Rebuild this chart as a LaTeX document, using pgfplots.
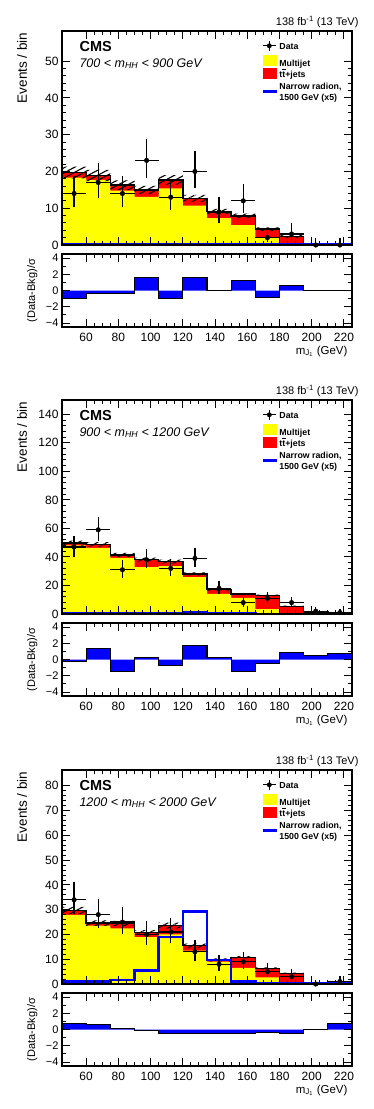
\documentclass[border=0pt]{standalone}
\usepackage{fontspec}
\setmainfont{Liberation Sans}
\usepackage{pgfplots}
\pgfplotsset{compat=1.18}
\usepackage{pgfplotstable}
\usetikzlibrary{patterns.meta}

\definecolor{mjyellow}{RGB}{255,255,0}
\definecolor{ttred}{RGB}{255,0,0}
\definecolor{sigblue}{RGB}{0,0,255}

\newcommand{\tbar}{\ooalign{t\cr\hidewidth\rule[7.3pt]{3.4pt}{0.7pt}\hidewidth\cr}}

% bin low edge, multijet, ttbar, bkg unc, signal (x5), pull
\pgfplotstableread{
lo  mj    tt    unc  sig   pull
45  18.3  1.4   1.6  0.1   -1.0
60  17.7  1.2   1.5  0.1   -0.35
75  14.8  1.5   1.3  0.1   -0.4
90  13.1  1.9   1.1  0.1   1.65
105 15.4  2.3   1.3  0.1   -0.95
120 10.7  2.0   0.9  0.1   1.65
135 7.3   1.8   0.7  0.1   0.05
150 5.4   2.5   0.6  0.1   1.2
165 2.1   2.2   0.5  0.1   -0.9
180 0.2   2.1   0.4  0.1   0.6
195 0.1   0.1   0.1  0.1   0.0
210 0.05  0.05  0.05 0.1   0.0
225 0.05  0.05  0.05 0.1   0.0
}\histA
\pgfplotstableread{
x     y   em   ep
52.5  14  3.7  4.8
67.5  17  4.1  5.2
82.5  14  3.7  4.8
97.5  23  4.8  5.9
112.5 13  3.6  4.7
127.5 20  4.4  5.6
142.5 9   2.9  4.1
157.5 12  3.4  4.6
172.5 2   1.3  2.6
187.5 3   1.6  2.9
202.5 0   0    1.8
217.5 0   0    1.8
}\dataA

\pgfplotstableread{
lo  mj    tt    unc  sig   pull
45  48.1  1.6   1.8  0.3   -0.3
60  46.4  2.4   1.6  0.4   1.35
75  39.4  2.1   1.4  0.5   -1.45
90  32.8  5.4   1.3  0.7   0.3
105 33.5  3.3   1.3  0.8   -0.7
120 25.8  2.3   1.0  0.9   1.7
135 14.1  3.0   0.7  0.6   0.25
150 11.3  2.8   0.6  0.3   -1.45
165 3.5   9.4   0.6  0.1   -0.45
180 0.7   4.7   0.4  0.05  0.9
195 0.5   1.0   0.2  0.05  0.45
210 0.3   0.7   0.1  0.05  0.75
225 0.3   0.7   0.1  0.05  0.75
}\histB
\pgfplotstableread{
x     y   em   ep
52.5  47  6.8  7.9
67.5  59  7.7  8.8
82.5  31  5.5  6.7
97.5  38  6.1  7.3
112.5 32  5.6  6.8
127.5 39  6.2  7.4
142.5 18  4.2  5.4
157.5 8   2.8  3.9
172.5 11  3.3  4.4
187.5 8   2.8  3.9
202.5 2   1.3  2.6
217.5 1   0.8  2.3
}\dataB

\pgfplotstableread{
lo  mj    tt    unc  sig   pull
45  27.9  1.8   1.4  1.1   0.75
60  23.6  1.0   1.1  1.1   0.6
75  22.5  2.0   1.0  1.6   0.15
90  18.9  2.0   0.9  5.4   -0.12
105 20.0  3.6   1.2  18.9  -0.45
120 13.5  2.0   0.8  29.3  -0.45
135 9.0   0.7   0.6  9.7   -0.52
150 6.5   4.3   0.5  1.1   -0.45
165 2.7   3.6   0.4  0.3   -0.32
180 0.4   3.9   0.3  0.1   -0.5
195 0.2   0.3   0.1  0.1   0.0
210 0.3   0.4   0.1  0.1   0.75
225 0.3   0.4   0.1  0.1   0.75
}\histC
\pgfplotstableread{
x     y   em   ep
52.5  34  5.8  7.0
67.5  28  5.3  6.4
82.5  25  5.0  6.1
97.5  20  4.4  5.6
112.5 21  4.6  5.7
127.5 13  3.6  4.7
142.5 8   2.8  3.9
157.5 9   2.9  4.1
172.5 5   2.2  3.4
187.5 3   1.6  2.9
202.5 0   0    1.8
217.5 1   0.8  2.3
}\dataC

\pgfplotsset{
  cmsbase/.style={
    scale only axis, width=290pt,
    xmin=45, xmax=225, axis on top,
    tick align=inside, tick pos=both,
    xtick={60,80,...,220}, minor x tick num=3,
    major tick length=8pt, minor tick length=4pt,
    axis line style={line width=1.2pt},
    every tick/.append style={black, line width=0.9pt},
    /pgf/number format/assume math mode=true,
    tick label style={font=\fontsize{12}{14}\selectfont},
  },
  mainax/.style={
    cmsbase, height=214pt, ymin=0,
    xticklabels={}, minor y tick num=4,
    legend style={at={(0.6897,0.958)}, anchor=north west, draw=none, fill=none,
      inner sep=0pt, row sep=0pt, column sep=3pt,
      font=\bfseries\fontsize{8.8}{10.5}\selectfont,
      nodes={inner sep=0pt},
      cells={anchor=west}},
  },
  ratioax/.style={
    cmsbase, height=73pt, ymin=-4.5, ymax=4.5,
    ytick={-4,-2,0,2,4}, yticklabels={−4,−2,0,2,4}, minor y tick num=1,
    yticklabel style={font=\fontsize{11}{13}\selectfont},
    xticklabel style={yshift=-2.5pt},
  },
  datalegend/.style={legend image code/.code={
    \draw[black, line width=1.2pt] (0pt,0pt)--(13pt,0pt);
    \draw[black, line width=1.2pt] (6.5pt,-5pt)--(6.5pt,5pt);
    \fill[black] (6.5pt,0pt) circle (2.2pt);}},
  mjlegend/.style={legend image code/.code={
    \fill[mjyellow] (0pt,-5pt) rectangle (13pt,5pt);}},
  ttlegend/.style={legend image code/.code={
    \fill[ttred] (0pt,-5pt) rectangle (13pt,5pt);}},
  siglegend/.style={legend image code/.code={
    \path (0pt,-6.5pt) (0pt,6.5pt);
    \fill[sigblue] (0pt,-7pt) rectangle (13pt,-4.3pt);}},
  nolegend/.style={legend image code/.code={
    \path (0pt,-1pt) (13pt,1pt);}},
}

\newcommand{\stackplots}[2]{%
  \addplot[const plot, fill=ttred, draw=none, forget plot]
    table[x=lo, y expr=\thisrow{mj}+\thisrow{tt}] {#1} \closedcycle;
  \addplot[const plot, fill=mjyellow, draw=none, forget plot]
    table[x=lo, y=mj] {#1} \closedcycle;
  % hatched uncertainty band: invisible lower edge, then band stacked on it
  \addplot[const plot, draw=none, stack plots=y, forget plot]
    table[x=lo, y expr=\thisrow{mj}+\thisrow{tt}-\thisrow{unc}] {#1};
  \addplot[const plot, draw=none, stack plots=y, forget plot,
    pattern={Lines[angle=28, distance=4.5pt, line width=1.1pt]}, pattern color=black]
    table[x=lo, y expr=2*\thisrow{unc}] {#1} \closedcycle;
  \addplot[const plot, black, line width=1.4pt, forget plot]
    table[x=lo, y expr=\thisrow{mj}+\thisrow{tt}] {#1};
  \addplot[const plot, sigblue, line width=2.6pt, forget plot]
    table[x=lo, y=sig] {#1};
  \addplot[black, only marks, mark=*, mark size=2.3pt, forget plot,
    error bars/.cd, x dir=both, x fixed=7.5, y dir=both, y explicit,
    error bar style={line width=1.2pt, black}, error mark=none]
    table[x=x, y=y, y error plus=ep, y error minus=em] {#2};
  \addlegendimage{datalegend}
  \addlegendentry{\raisebox{0pt}[8.2pt][1.8pt]{Data}}
  \addlegendimage{mjlegend}
  \addlegendentry{\raisebox{0pt}[15.2pt][8.8pt]{Multijet}}
  \addlegendimage{ttlegend}
  \addlegendentry{\raisebox{0pt}[9.2pt][2.8pt]{t\tbar+jets}}
  \addlegendimage{siglegend}
  \addlegendentry{\raisebox{0pt}[9.2pt][2.8pt]{Narrow radion,}}
  \addlegendimage{nolegend}
  \addlegendentry{\raisebox{0pt}[8.2pt][1.8pt]{1500 GeV (x5)}}
}

\newcommand{\pullplots}[1]{%
  \addplot[const plot, fill=sigblue, draw=none]
    table[x=lo, y=pull] {#1} \closedcycle;
  \addplot[const plot, black, line width=1.1pt]
    table[x=lo, y=pull] {#1};
}

\newcommand{\paneltext}[2]{% y offset of panel, mass range
  \node[anchor=base east, font=\fontsize{11}{13}\selectfont]
    at (362pt,-25pt+#1) {138 fb\textsuperscript{-1} (13 TeV)};
  \node[anchor=base east, rotate=90, font=\fontsize{13.5}{15}\selectfont]
    at (27pt,-29pt+#1) {Events / bin};
  \node[anchor=base west, font=\bfseries\fontsize{14.5}{16}\selectfont]
    at (76pt,-51.5pt+#1) {CMS};
  \node[anchor=base west, font=\itshape\fontsize{12.5}{14}\selectfont]
    at (76pt,-67pt+#1) {#2};
  \node[anchor=base, rotate=90, font=\fontsize{11}{13}\selectfont]
    at (35pt,-290.5pt+#1) {(Data-Bkg)/σ};
  \node[anchor=base east, font=\fontsize{11.5}{13}\selectfont]
    at (351pt,-354pt+#1) {m\textsubscript{J\textsubscript{1}} (GeV)};
}

\begin{document}
\begin{tikzpicture}
\path[use as bounding box] (0pt,0pt) rectangle (374pt,-1109pt);

% ---- 700 < mHH < 900
\begin{axis}[mainax, at={(62pt,-31pt)}, anchor=north west,
  ymax=58.2, ytick={0,10,...,50}]
\stackplots{\histA}{\dataA}
\end{axis}
\begin{axis}[ratioax, at={(62pt,-254pt)}, anchor=north west]
\pullplots{\histA}
\end{axis}
\paneltext{0pt}{700 < \textit{m}\textsubscript{HH} < 900 GeV}

% ---- 900 < mHH < 1200
\begin{axis}[mainax, at={(62pt,-400pt)}, anchor=north west,
  ymax=150, ytick={0,20,...,140}]
\stackplots{\histB}{\dataB}
\end{axis}
\begin{axis}[ratioax, at={(62pt,-623pt)}, anchor=north west]
\pullplots{\histB}
\end{axis}
\paneltext{-369pt}{900 < \textit{m}\textsubscript{HH} < 1200 GeV}

% ---- 1200 < mHH < 2000
\begin{axis}[mainax, at={(62pt,-770pt)}, anchor=north west,
  ymax=86.4, ytick={0,10,...,80}]
\stackplots{\histC}{\dataC}
\end{axis}
\begin{axis}[ratioax, at={(62pt,-993pt)}, anchor=north west]
\pullplots{\histC}
\end{axis}
\paneltext{-739pt}{1200 < \textit{m}\textsubscript{HH} < 2000 GeV}

\end{tikzpicture}
\end{document}
